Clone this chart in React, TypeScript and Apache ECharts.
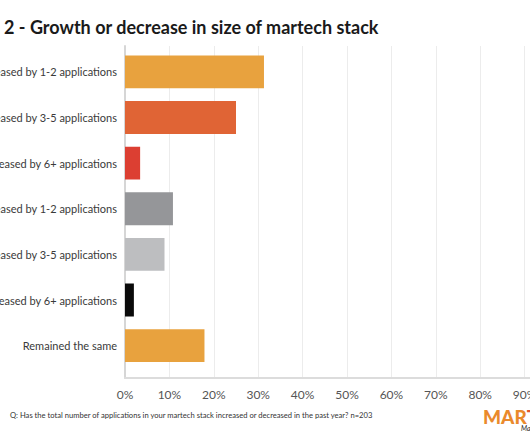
import React, { useEffect, useRef } from "react";
import * as echarts from "echarts";

const categories = [
  "Increased by 1-2 applications",
  "Increased by 3-5 applications",
  "Increased by 6+ applications",
  "Decreased by 1-2 applications",
  "Decreased by 3-5 applications",
  "Decreased by 6+ applications",
  "Remained the same",
];
const values = [31.3, 25.0, 3.4, 10.8, 8.9, 2.0, 17.9];
const barColors = ["#E8A23E", "#E06435", "#DC3F32", "#959699", "#BDBEC0", "#0A0A0A", "#E8A23E"];
const xTicks = { min: 0, max: 100, interval: 10 };
const title = "2 - Growth or decrease in size of martech stack";
const footnote =
  "Q: Has the total number of applications in your martech stack increased or decreased in the past year? n=203";

export default function App() {
  const ref = useRef<HTMLDivElement>(null);
  useEffect(() => {
    if (!ref.current) return;
    const chart = echarts.init(ref.current, null, { renderer: "svg" });
    chart.setOption({
      animation: false,
      backgroundColor: "#ffffff",
      title: {
        text: title,
        left: -1,
        top: 13,
        textStyle: { fontSize: 18, fontWeight: "bold", color: "#1a1a1a", fontFamily: "Lato" },
      },
      grid: [
        { left: 125, top: 49, width: 444, height: 319.5, containLabel: false, outerBoundsMode: "none" },
        { left: 125, top: 46, width: 444, bottom: 64, containLabel: false, outerBoundsMode: "none" },
      ],
      xAxis: [
        {
          gridIndex: 0,
          type: "value",
          ...xTicks,
          show: false,
          splitLine: { show: false },
        },
        {
          gridIndex: 1,
          type: "value",
          ...xTicks,
          axisLabel: {
            formatter: "{value}%",
            color: "#555",
            fontSize: 12,
            fontFamily: "Lato",
            margin: 10,
          },
          axisLine: { show: true, lineStyle: { color: "#dcdcdc", width: 2 } },
          axisTick: { show: false },
          splitLine: { show: true, lineStyle: { color: "#ececec", width: 1 } },
        },
      ],
      yAxis: [
        {
          gridIndex: 0,
          type: "category",
          inverse: true,
          data: categories,
          axisLabel: { color: "#3a3a3a", fontSize: 11, fontFamily: "Lato", margin: 8 },
          axisLine: { show: false },
          axisTick: { show: false },
        },
        {
          gridIndex: 1,
          type: "value",
          min: 0,
          max: 1,
          axisLabel: { show: false },
          axisLine: { show: true, lineStyle: { color: "#d6d6d6", width: 2 } },
          axisTick: { show: false },
          splitLine: { show: false },
        },
      ],
      series: [
        {
          type: "bar",
          xAxisIndex: 0,
          yAxisIndex: 0,
          data: values.map((v, i) => ({ value: v, itemStyle: { color: barColors[i] } })),
          barCategoryGap: "28%",
        },
      ],
      graphic: [
        {
          type: "text",
          left: 10,
          top: 411,
          style: { text: footnote, fontSize: 7.6, fontFamily: "Lato", fill: "#333" },
        },
        {
          type: "text",
          left: 483,
          top: 407,
          style: {
            text: "{a|MAR}{b|TECH}",
            rich: {
              a: { fontSize: 19, lineHeight: 16, fontWeight: 900, fontFamily: "Lato", fill: "#EA8A2C" },
              b: { fontSize: 19, lineHeight: 16, fontWeight: 900, fontFamily: "Lato", fill: "#E2562E" },
            },
          },
        },
        {
          type: "text",
          left: 521,
          top: 424,
          style: { text: "MarTech Alliance", fontSize: 7, fontStyle: "italic", fontFamily: "Lato", fill: "#222" },
        },
      ],
    });
    return () => chart.dispose();
  }, []);
  return (
    <div style={{ position: "fixed", left: 0, top: 0, width: 530, height: 442, overflow: "hidden", background: "#fff" }}>
      <div ref={ref} style={{ position: "absolute", left: 0, top: 0, width: 640, height: 442 }} />
    </div>
  );
}
